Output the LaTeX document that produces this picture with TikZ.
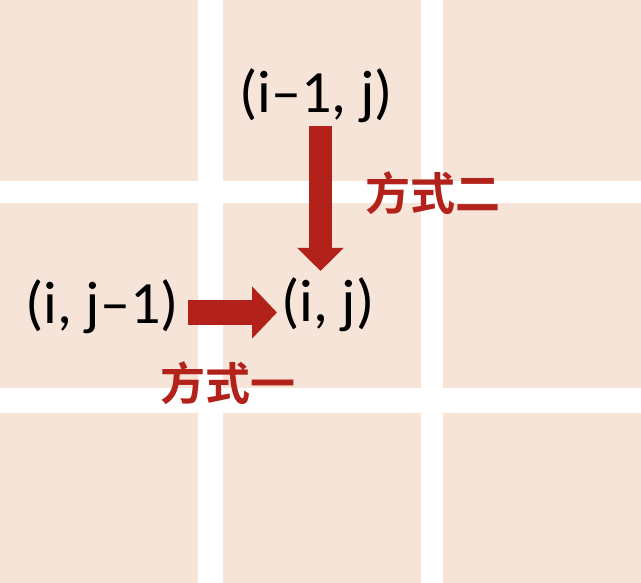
\documentclass[tikz,border=0pt]{standalone}
\usepackage{fontspec}
\setmainfont{Carlito}
\newfontfamily\cjk{Noto Sans CJK SC Bold}
\usetikzlibrary{arrows.meta}
\definecolor{tile}{RGB}{247,228,216}
\definecolor{darkred}{RGB}{178,34,26}
\tikzset{
  tilebox/.style={fill=tile, draw=none},
  coordlabel/.style={font=\fontsize{60}{70}\selectfont, inner sep=0pt, text=black},
  waylabel/.style={font=\cjk\fontsize{45}{54}\selectfont, inner sep=0pt, text=darkred},
  bigarrowH/.style={draw=darkred, line width=25pt, -{Triangle[length=25pt,width=51pt]}},
  bigarrowV/.style={draw=darkred, line width=23pt, -{Triangle[length=23pt,width=45pt]}},
}
\begin{document}
\begin{tikzpicture}[x=1pt,y=-1pt]
\useasboundingbox (0,0) rectangle (641,583);
% tiles
\foreach \xa/\xb [count=\ci] in {0/198,223/421,443/641}{
  \foreach \ya/\yb [count=\ri] in {0/181,203/388,413/583}{
    \path[tilebox] (\xa,\ya) rectangle (\xb,\yb);
  }
}
% labels
\node[coordlabel] (up) at (316,96) {(i–1, j)};
\node[coordlabel] (left) at (102,307) {(i, j–1)};
\node[coordlabel] (cur) at (328,305) {(i, j)};
\node[waylabel] (way2) at (433,193) {方式二};
\node[waylabel] (way1) at (228,383) {方式一};
% arrows
\coordinate (hs) at (188,312.5);
\coordinate (he) at (277,312.5);
\coordinate (vs) at (320.5,126);
\coordinate (ve) at (320.5,271);
\draw[bigarrowH] (hs) -- (he);
\draw[bigarrowV] (vs) -- (ve);
\end{tikzpicture}
\end{document}
